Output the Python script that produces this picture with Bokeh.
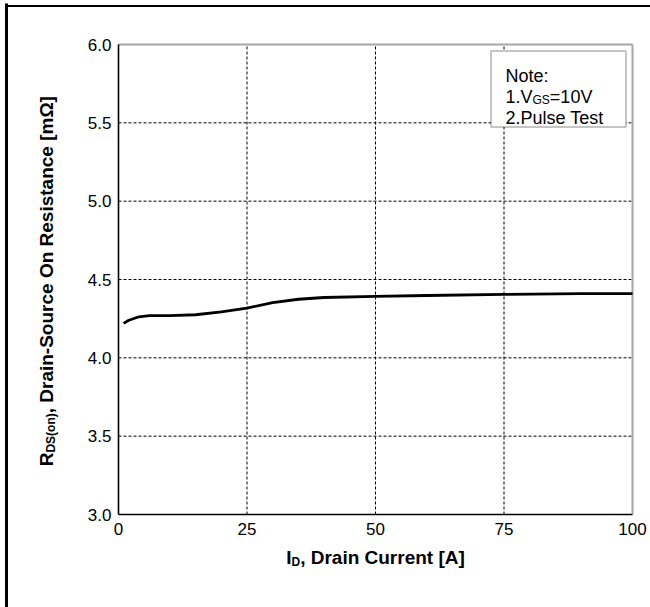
import math
from bokeh.plotting import figure
from bokeh.models import Label, BoxAnnotation, FixedTicker, Range1d
from bokeh.embed import file_html
from bokeh.resources import INLINE

# ---- data ----
drain_current = [1, 2, 4, 6, 10, 15, 20, 25, 30, 35, 40, 50, 60, 75, 90, 100]
rds_on = [4.22, 4.24, 4.262, 4.27, 4.27, 4.275, 4.293, 4.318, 4.352, 4.374,
          4.385, 4.392, 4.398, 4.405, 4.41, 4.41]
x_ticks = [0, 25, 50, 75, 100]
x_tick_labels = ["0", "25", "50", "75", "100"]
y_ticks = [3.0, 3.5, 4.0, 4.5, 5.0, 5.5, 6.0]
y_tick_labels = ["3.0", "3.5", "4.0", "4.5", "5.0", "5.5", "6.0"]
x_grid = [25, 50, 75]
y_grid = [3.5, 4.0, 4.5, 5.0, 5.5]
note_title = "Note:"
note_line2 = "2.Pulse Test"

FONT = "Liberation Sans"
TICK_PX = 17
LABEL_PX = 19
SUB_PX = 12
NOTE_PX = 18
NOTE_SUB_PX = 12

# Arial / Liberation Sans advance widths (per 1000 em)
BOLD = {' ': 278, ',': 278, '-': 333, '[': 333, ']': 333, '(': 333, ')': 333,
        'A': 722, 'C': 722, 'D': 722, 'I': 278, 'O': 778, 'R': 722, 'S': 667,
        'a': 556, 'c': 556, 'e': 556, 'i': 278, 'n': 611, 'o': 611, 'r': 389,
        's': 556, 't': 333, 'u': 611, 'm': 889, 'Ω': 768}
REG = {' ': 278, '.': 278, ':': 278, '=': 584, '0': 556, '1': 556, '2': 556,
       'N': 722, 'o': 556, 't': 278, 'e': 556, 'V': 667, 'G': 778, 'S': 667,
       'P': 667, 'u': 556, 'l': 222, 's': 500, 'T': 611}


def tw(text, size, bold):
    table = BOLD if bold else REG
    return sum(table.get(c, 556) for c in text) * size / 1000.0


# page geometry: the data area of the chart sits at these canvas pixels
W, H = 650, 607
FL, FR, FT, FB = 118, 632, 44, 514
X0, X1 = 0, 100
Y0, Y1 = 3.0, 6.0


def dx(px):  # canvas x pixel -> data x
    return X0 + (px - FL) / (FR - FL) * (X1 - X0)


def dy(py):  # canvas y pixel -> data y
    return Y0 + (FB - py) / (FB - FT) * (Y1 - Y0)


p = figure(width=W, height=H,
           x_range=Range1d(dx(0), dx(W)), y_range=Range1d(dy(H), dy(0)),
           output_backend="svg", toolbar_location=None, min_border=0)
p.outline_line_color = None
p.background_fill_color = "white"
p.border_fill_color = "white"
p.xgrid.visible = False
p.ygrid.visible = False

for ax, ticks, labels, loc, bnd in ((p.xaxis, x_ticks, x_tick_labels, Y0, (X0, X1)),
                                    (p.yaxis, y_ticks, y_tick_labels, X0, (Y0, Y1))):
    ax.fixed_location = loc
    ax.bounds = bnd
    ax.ticker = FixedTicker(ticks=ticks)
    ax.major_label_overrides = {t: l for t, l in zip(ticks, labels)}
    ax.major_tick_in = 0
    ax.major_tick_out = 0
    ax.minor_tick_in = 0
    ax.minor_tick_out = 0
    ax.axis_line_color = "black"
    ax.axis_line_width = 1.6
    ax.major_label_text_font = FONT
    ax.major_label_text_font_size = f"{TICK_PX}px"
    ax.major_label_text_color = "black"
p.xaxis.major_label_standoff = 8
p.yaxis.major_label_standoff = 7

# dashed grid
p.segment(x0=x_grid, y0=[Y0] * len(x_grid), x1=x_grid, y1=[Y1] * len(x_grid),
          line_color="black", line_dash="3 2", line_width=1)
p.segment(x0=[X0] * len(y_grid), y0=y_grid, x1=[X1] * len(y_grid), y1=y_grid,
          line_color="black", line_dash="3 2", line_width=1)
# grey top / right edges of the plot area
p.segment(x0=[X0, X1], y0=[Y1, Y0], x1=[X1, X1], y1=[Y1, Y1],
          line_color="#a6a6a6", line_width=2)

p.line(drain_current, rds_on, line_color="black", line_width=2.8)

# outer frame of the picture (left and top edges)
p.add_layout(BoxAnnotation(left=dx(4.5), right=dx(7.5), top=dy(3), bottom=dy(H),
                           fill_color="black", fill_alpha=1.0, line_color=None))
p.add_layout(BoxAnnotation(left=dx(4.5), right=dx(W), top=dy(4.5), bottom=dy(6.5),
                           fill_color="black", fill_alpha=1.0, line_color=None))

# Note box
p.add_layout(BoxAnnotation(left=dx(490.5), right=dx(625.5), top=dy(50.5), bottom=dy(126.5),
                           fill_color="white", fill_alpha=1.0,
                           line_color="black", line_width=1.5))


def rich(pieces, x, y, angle=0.0, center=False):
    widths = [tw(t, s, b) for (t, s, b, sh) in pieces]
    total = sum(widths)
    adv = -total / 2 if center else 0.0
    for (t, s, b, sh), w in zip(pieces, widths):
        if angle == 0:
            xo, yo = adv, -sh
        else:
            xo, yo = sh, adv
        p.add_layout(Label(x=x, y=y, x_offset=xo, y_offset=yo, text=t, angle=angle,
                           text_font=FONT, text_font_size=f"{s}px",
                           text_font_style="bold" if b else "normal",
                           text_align="left", text_baseline="alphabetic",
                           text_color="black"))
        adv += w


# note text
nx = dx(505)
rich([(note_title, NOTE_PX, False, 0)], nx, dy(75))
rich([("1.V", NOTE_PX, False, 0), ("GS", NOTE_SUB_PX, False, 3),
      ("=10V", NOTE_PX, False, 0)], nx, dy(96))
rich([(note_line2, NOTE_PX, False, 0)], nx, dy(117))

# x axis label
rich([("I", LABEL_PX, True, 0), ("D", SUB_PX, True, 4),
      (", Drain Current [A]", LABEL_PX, True, 0)],
     (X0 + X1) / 2, dy(557), center=True)

# y axis label (rotated)
rich([("R", LABEL_PX, True, 0), ("DS(on)", SUB_PX, True, 4),
      (", Drain-Source On Resistance [mΩ]", LABEL_PX, True, 0)],
     dx(46), dy(281), angle=math.pi / 2, center=True)

open("out.html", "w").write(file_html(p, INLINE))
